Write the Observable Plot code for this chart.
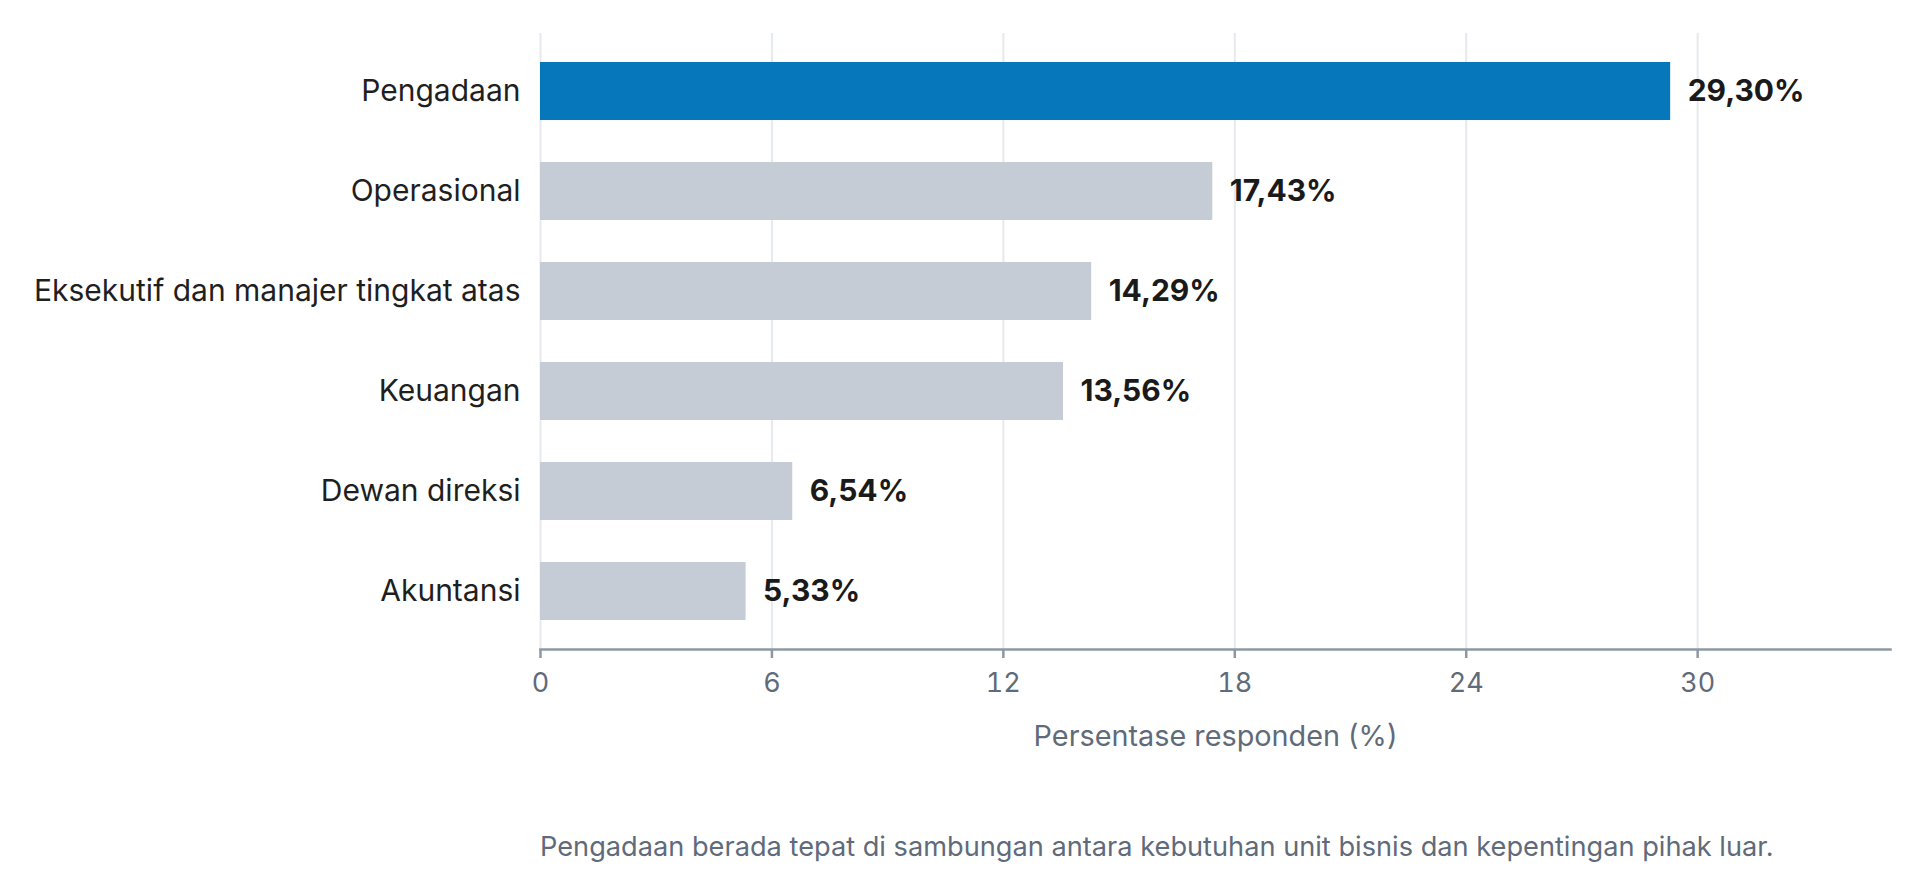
<!DOCTYPE html>
<html>
<head>
<meta charset="utf-8">
<script src="https://cdn.jsdelivr.net/npm/d3@7"></script>
<script src="https://cdn.jsdelivr.net/npm/@observablehq/plot@0.6"></script>
<style>
  html, body { margin: 0; padding: 0; background: #fff; }
  body { font-family: Inter, "Noto Sans", sans-serif; width: 1920px; height: 891px; overflow: hidden; }
  #caption { margin-left: 540px; font-size: 27.2px; color: #5f6b7a; line-height: 30px; margin-top: 62px; white-space: nowrap; }
</style>
</head>
<body>
<div id="chart"></div>
<div id="caption">Pengadaan berada tepat di sambungan antara kebutuhan unit bisnis dan kepentingan pihak luar.</div>
<script>
const categories = ["Pengadaan", "Operasional", "Eksekutif dan manajer tingkat atas", "Keuangan", "Dewan direksi", "Akuntansi"];
const values = [29.30, 17.43, 14.29, 13.56, 6.54, 5.33];
const xTicks = [0, 6, 12, 18, 24, 30];
const xLabel = "Persentase responden (%)";
const highlight = "Pengadaan";

const data = categories.map((c, i) => ({cat: c, value: values[i]}));
const fmt = v => v.toFixed(2).replace(".", ",") + "%";

const chart = Plot.plot({
  width: 1920,
  height: 770,
  marginLeft: 540,
  marginRight: 30,
  marginTop: 33,
  marginBottom: 121,
  style: {fontFamily: "Inter, sans-serif", background: "#fff"},
  x: {domain: [0, 35], ticks: xTicks},
  y: {domain: categories, paddingInner: 0.424, paddingOuter: 0.28},
  marks: [
    Plot.gridX(xTicks, {stroke: "#e6e9ed", strokeOpacity: 1, strokeWidth: 2}),
    Plot.barX(data, {x: "value", y: "cat", fill: d => d.cat === highlight ? "#0777bb" : "#c5ccd5"}),
    Plot.text(data, {x: "value", y: "cat", text: d => fmt(d.value), dx: 17, textAnchor: "start", fontWeight: 700, fontSize: 30, fill: "#1a1a1a"}),
    Plot.frame({anchor: "bottom", stroke: "#8e98a5", strokeWidth: 2.5}),
    Plot.axisX({ticks: xTicks, tickSize: 9, tickPadding: 14, fontSize: 27, color: "#5f6b7a", stroke: "#8e98a5", strokeWidth: 2.5,
      label: null, tickFormat: d => String(d)}),
    Plot.text([xLabel], {frameAnchor: "bottom", dy: 96, text: d => d, fontSize: 28.8, fill: "#5f6b7a"}),
    Plot.axisY({tickSize: 0, tickPadding: 20, fontSize: 30, color: "#1f1f1f", label: null})
  ]
});
document.getElementById("chart").appendChild(chart);
</script>
</body>
</html>
